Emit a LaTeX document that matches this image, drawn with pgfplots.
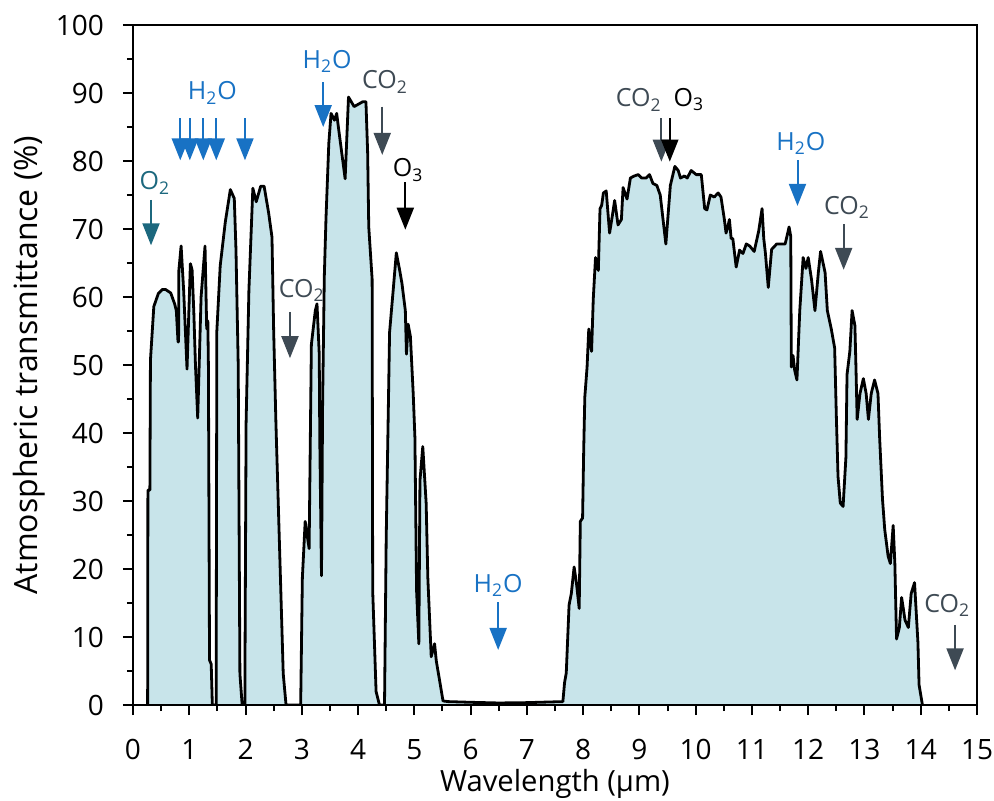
\documentclass[border=0pt]{standalone}
\usepackage{fontspec}
\setmainfont{Open Sans}
\usepackage{pgfplots}
\pgfplotsset{compat=1.18}
\usetikzlibrary{arrows.meta}
\definecolor{fillc}{RGB}{200,228,234}
\definecolor{h2o}{RGB}{24,114,196}
\definecolor{otwo}{RGB}{28,104,126}
\definecolor{cotwo}{RGB}{62,74,84}
\tikzset{
  ann/.style={font=\fontsize{12.5}{14}\selectfont},
  arr/.style={line width=1pt, -{Triangle[width=8.5pt,length=11pt]}},
}
\begin{document}
\begin{tikzpicture}
\begin{axis}[
  name=ax, scale only axis, width=422pt, height=340pt,
  xmin=0, xmax=15, ymin=0, ymax=100,
  xtick={0,...,15}, ytick={0,10,...,100},
  minor x tick num=1, minor y tick num=1,
  tick align=outside, xtick pos=bottom, ytick pos=left,
  major tick length=5pt, minor tick length=3pt,
  every tick/.style={black, line width=1pt},
  axis line style={line width=1.3pt},
  axis on top,
  tick label style={font=\fontsize{14}{16}\selectfont},
  xticklabel style={yshift=-8.5pt},
  yticklabel style={xshift=-6pt},
  /pgf/number format/assume math mode=true,
  xlabel={Wavelength (µm)}, ylabel={Atmospheric transmittance (\%)},
  xlabel style={font=\fontsize{14.6}{17}\selectfont, at={(axis description cs:0.5,-0.127)}, anchor=base},
  ylabel style={font=\fontsize{16}{19}\selectfont, at={(axis description cs:-0.123,0.5)}, anchor=center},
]
\addplot[fill=fillc, draw=black, line width=1.4pt, line join=round] coordinates {
(0.26,0) (0.265,31.6) (0.30,31.6) (0.31,50.7) (0.37,58.6) (0.45,60.5) (0.52,61.1) (0.58,61.1) (0.67,60.6) (0.74,59) (0.77,58) (0.80,53.4) (0.81,53.4) (0.815,63.9) (0.855,67.5) (0.9,61) (0.96,49.4) (1.02,64.9) (1.05,64) (1.08,58) (1.11,50) (1.15,42.2) (1.21,60) (1.28,67.5) (1.31,55.3) (1.33,56.5) (1.34,50) (1.36,6.6) (1.39,6) (1.41,0)
(1.48,0) (1.48,10) (1.49,55) (1.55,64.6) (1.64,71) (1.73,75.8) (1.80,74.5) (1.83,67) (1.87,50) (1.90,4.6) (1.94,0)
(1.99,0) (1.99,5) (2.01,41.5) (2.06,61) (2.13,76) (2.19,74) (2.27,76.3) (2.33,76.3) (2.41,72.4) (2.47,68.8) (2.50,55) (2.54,41.5) (2.67,4.6) (2.72,0)
(2.98,0) (3.01,18.7) (3.06,27) (3.13,23) (3.17,53) (3.24,58) (3.27,59) (3.31,51.6) (3.32,38.7) (3.35,19) (3.37,44.5) (3.40,63) (3.43,71.6) (3.48,82.6) (3.52,87) (3.58,86) (3.62,87) (3.65,85) (3.77,77.4) (3.83,89.4) (3.93,88) (4.08,88.7) (4.14,88.7) (4.17,81.3) (4.19,70.3) (4.25,62.6) (4.26,16.8) (4.32,2) (4.38,0)
(4.47,0) (4.50,24.5) (4.56,54.8) (4.62,60.6) (4.68,66.5) (4.74,63.9) (4.78,62) (4.84,58) (4.86,51.6) (4.89,56) (4.93,54.2) (4.98,45.8) (5.01,39.4) (5.04,16.8) (5.08,9) (5.10,33) (5.15,38) (5.21,29.7) (5.24,18.7) (5.30,7.1) (5.36,9) (5.39,6.5) (5.51,0.6)
(5.6,0.5) (6.0,0.4) (6.5,0.3) (7.0,0.35) (7.64,0.5)
(7.67,3.3) (7.70,4.7) (7.75,14.7) (7.79,16.4) (7.84,20.3) (7.88,18) (7.93,14.2) (7.95,27) (7.99,27.5) (8.01,37.5) (8.03,45.3) (8.07,49.7) (8.10,55.3) (8.15,52) (8.18,59.7) (8.22,65.8) (8.27,63.9) (8.30,73) (8.33,73.5) (8.36,75.3) (8.41,75.6) (8.47,69.4) (8.52,72) (8.56,74.2) (8.62,70.6) (8.68,71.4) (8.71,76.1) (8.78,74.4) (8.84,77.5) (8.91,77.8) (8.98,78) (9.04,77.5) (9.12,77.5) (9.18,78) (9.24,76.7) (9.31,76.4) (9.37,75) (9.47,67.8) (9.55,76.4) (9.63,79.2) (9.69,78.6) (9.73,77.5) (9.80,77.8) (9.85,77.5) (9.92,78.6) (10.01,78) (10.10,78) (10.16,73) (10.20,72.8) (10.26,75) (10.33,74.7) (10.40,75.3) (10.45,74.7) (10.51,71.4) (10.54,69.4) (10.57,70.3) (10.60,71.4) (10.63,68.6) (10.66,68.6) (10.72,64.4) (10.78,66.9) (10.84,66.4) (10.90,67.8) (10.96,67.5) (11.04,66.7) (11.12,69.7) (11.18,73) (11.21,68.6) (11.24,66.4) (11.29,61.4) (11.35,67) (11.44,67.8) (11.53,67.8) (11.59,67.8) (11.63,69.2) (11.66,70.3) (11.69,68.9) (11.70,49.7) (11.73,51.4) (11.76,49.2) (11.80,47.8) (11.85,58) (11.91,65.8) (11.96,64.2) (12.0,65.8) (12.06,62.5) (12.12,58) (12.18,63.6) (12.22,66.7) (12.30,63.6) (12.34,58) (12.41,55.3) (12.47,52.5) (12.50,42.5) (12.53,33.6) (12.57,29.7) (12.62,29.2) (12.67,36.4) (12.69,48.6) (12.74,52) (12.78,58) (12.83,55.8) (12.85,49.2) (12.87,42) (12.92,45.8) (12.98,48) (13.03,45.8) (13.07,42) (13.12,45.8) (13.18,47.8) (13.24,45.8) (13.27,39.2) (13.32,30.3) (13.36,25.8) (13.42,21.9) (13.46,20.8) (13.51,26.4) (13.54,20.8) (13.57,9.7) (13.62,11.4) (13.66,15.8) (13.69,14.2) (13.72,12.5) (13.78,11.4) (13.83,16.4) (13.89,18) (13.92,13.6) (13.95,9.2) (13.97,3) (14.03,0)
};
% annotations
\node[ann, text=otwo] at (axis cs:0.39,76.8) {O\textsubscript{2}};
\draw[arr, otwo] (axis cs:0.32,74.3) -- (axis cs:0.32,67.6);
\node[ann, text=h2o] at (axis cs:1.41,90) {H\textsubscript{2}O};
\draw[arr, h2o] (axis cs:0.84,86.3) -- (axis cs:0.84,80.1);
\draw[arr, h2o] (axis cs:1.01,86.3) -- (axis cs:1.01,80.1);
\draw[arr, h2o] (axis cs:1.25,86.3) -- (axis cs:1.25,80.1);
\draw[arr, h2o] (axis cs:1.48,86.3) -- (axis cs:1.48,80.1);
\draw[arr, h2o] (axis cs:1.99,86.3) -- (axis cs:1.99,80.1);
\node[ann, text=h2o] at (axis cs:3.45,94.6) {H\textsubscript{2}O};
\draw[arr, h2o] (axis cs:3.38,91.6) -- (axis cs:3.38,85);
\node[ann, text=cotwo] at (axis cs:4.48,91.6) {CO\textsubscript{2}};
\draw[arr, cotwo] (axis cs:4.43,88) -- (axis cs:4.43,80.9);
\node[ann, text=black] at (axis cs:4.89,78.7) {O\textsubscript{3}};
\draw[arr, black] (axis cs:4.84,76.9) -- (axis cs:4.84,69.9);
\node[ann, text=cotwo] at (axis cs:3.0,61) {CO\textsubscript{2}};
\draw[arr, cotwo] (axis cs:2.79,57.8) -- (axis cs:2.79,51);
\node[ann, text=h2o] at (axis cs:6.49,17.6) {H\textsubscript{2}O};
\draw[arr, h2o] (axis cs:6.49,15.1) -- (axis cs:6.49,8.1);
\node[ann, text=cotwo] at (axis cs:8.99,89) {CO\textsubscript{2}};
\draw[arr, cotwo] (axis cs:9.39,86.3) -- (axis cs:9.39,79.9);
\node[ann, text=black] at (axis cs:9.88,89) {O\textsubscript{3}};
\draw[arr, black] (axis cs:9.54,86.3) -- (axis cs:9.54,79.9);
\node[ann, text=h2o] at (axis cs:11.87,82.6) {H\textsubscript{2}O};
\draw[arr, h2o] (axis cs:11.81,80.1) -- (axis cs:11.81,73.4);
\node[ann, text=cotwo] at (axis cs:12.69,73.2) {CO\textsubscript{2}};
\draw[arr, cotwo] (axis cs:12.63,70.7) -- (axis cs:12.63,64);
\node[ann, text=cotwo] at (axis cs:14.47,14.6) {CO\textsubscript{2}};
\draw[arr, cotwo] (axis cs:14.61,11.8) -- (axis cs:14.61,5.1);
\end{axis}
\pgfresetboundingbox
\path[use as bounding box] (ax.south west) ++(-66.5pt,-47.5pt) rectangle ++(497pt,400pt);
\end{tikzpicture}
\end{document}
